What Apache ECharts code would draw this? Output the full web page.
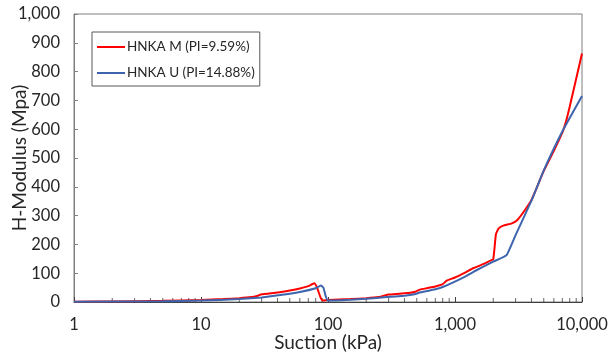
<!DOCTYPE html>
<html>
<head>
<meta charset="utf-8">
<script src="https://cdn.jsdelivr.net/npm/echarts@6/dist/echarts.min.js"></script>
<style>
  html, body { margin: 0; padding: 0; background: #fff; }
  #chart { width: 614px; height: 356px; }
</style>
</head>
<body>
<div id="chart"></div>
<script>
// HNKA M (PI=9.59%)
const suctionM = [1, 2, 5, 10, 15, 20, 25, 28, 30, 40, 50, 60, 70, 78, 82, 87, 91, 100, 150, 200, 250, 280, 300, 400, 480, 530, 600, 700, 800, 860, 1000, 1200, 1400, 1700, 1950, 2000, 2050, 2100, 2200, 2400, 2800, 3100, 3500, 4000, 5000, 6000, 7000, 7500, 8000, 9000, 10000];
const modulusM = [1, 2, 4, 7, 10, 13, 17, 22, 27, 33, 40, 47, 55, 65, 50, 18, 5, 7, 10, 13, 17, 23, 26, 30, 35, 43, 48, 54, 62, 74, 85, 102, 118, 133, 146, 148, 190, 235, 255, 265, 273, 285, 315, 354, 455, 525, 588, 628, 678, 775, 863];

// HNKA U (PI=14.88%)
const suctionU = [1, 5, 10, 20, 30, 42, 60, 80, 88, 92, 96, 100, 150, 200, 290, 400, 480, 520, 700, 810, 970, 1200, 1400, 2000, 2550, 3000, 4000, 5000, 7000, 10000];
const modulusU = [1, 3, 5, 10, 16, 24, 35, 48, 57, 50, 20, 5, 8, 11, 17, 22, 27, 32, 44, 53, 68, 88, 105, 140, 163, 232, 352, 457, 592, 715];

// minor ticks of the log axis
const minorTicks = [2, 3, 4, 5, 6, 7, 8, 9, 20, 30, 40, 50, 60, 70, 80, 90, 200, 300, 400, 500, 600, 700, 800, 900, 2000, 3000, 4000, 5000, 6000, 7000, 8000, 9000];

const seriesNames = ['HNKA M (PI=9.59%)', 'HNKA U (PI=14.88%)'];

const fontFamily = 'Lato, "Open Sans", sans-serif';
const fmt = v => v.toLocaleString('en-US');

const chart = echarts.init(document.getElementById('chart'));
chart.setOption({
  animation: false,
  textStyle: { fontFamily },
  grid: {
    left: 74, right: 32, top: 14, bottom: 54,
    outerBoundsMode: 'none',
    containLabel: false,
    show: true, borderColor: '#7f7f7f', borderWidth: 1,
  },
  legend: {
    data: seriesNames,
    orient: 'vertical',
    left: 92, top: 32,
    padding: [7, 5, 5, 5],
    itemGap: 10,
    icon: 'rect',
    itemWidth: 28, itemHeight: 2,
    borderColor: '#595959', borderWidth: 1,
    backgroundColor: '#fff',
    textStyle: { fontSize: 13.5, color: '#262626', fontFamily, padding: [0, 0, 0, -3], lineHeight: 16 },
  },
  xAxis: {
    type: 'log',
    logBase: 10,
    min: 1, max: 10000,
    name: 'Suction (kPa)',
    nameLocation: 'middle',
    nameGap: 31,
    nameMoveOverlap: false,
    nameTextStyle: { fontSize: 19, color: '#262626' },
    axisLine: { lineStyle: { color: '#404040' } },
    axisTick: { inside: true, length: 5, lineStyle: { color: '#404040' } },
    axisLabel: { fontSize: 16.5, color: '#262626', margin: 14, formatter: fmt },
    splitLine: { show: false },
  },
  yAxis: {
    type: 'value',
    min: 0, max: 1000, interval: 100,
    name: 'H-Modulus (Mpa)',
    nameLocation: 'middle',
    nameGap: 45,
    nameMoveOverlap: false,
    nameTextStyle: { fontSize: 19, color: '#262626' },
    axisLine: { show: true, lineStyle: { color: '#7f7f7f' } },
    axisTick: { show: true, inside: true, length: 4, lineStyle: { color: '#7f7f7f' } },
    axisLabel: { fontSize: 16.5, color: '#262626', margin: 14, formatter: fmt },
    splitLine: { show: false },
  },
  series: [
    {
      name: seriesNames[0],
      type: 'line',
      data: suctionM.map((x, i) => [x, modulusM[i]]),
      showSymbol: false,
      symbol: 'none',
      smooth: 0.12,
      lineStyle: { color: '#ff0000', width: 2 },
      itemStyle: { color: '#ff0000' },
      z: 3,
    },
    {
      name: seriesNames[1],
      type: 'line',
      data: suctionU.map((x, i) => [x, modulusU[i]]),
      showSymbol: false,
      symbol: 'none',
      smooth: 0.12,
      lineStyle: { color: '#3d64ad', width: 2 },
      itemStyle: { color: '#3d64ad' },
      z: 4,
    },
    {
      name: 'minor',
      type: 'scatter',
      data: minorTicks.map(x => [x, 0]),
      symbol: 'rect',
      symbolSize: [1, 4],
      symbolOffset: [0, -2],
      itemStyle: { color: '#404040' },
      silent: true,
      z: 1,
    },
  ],
});
</script>
</body>
</html>
